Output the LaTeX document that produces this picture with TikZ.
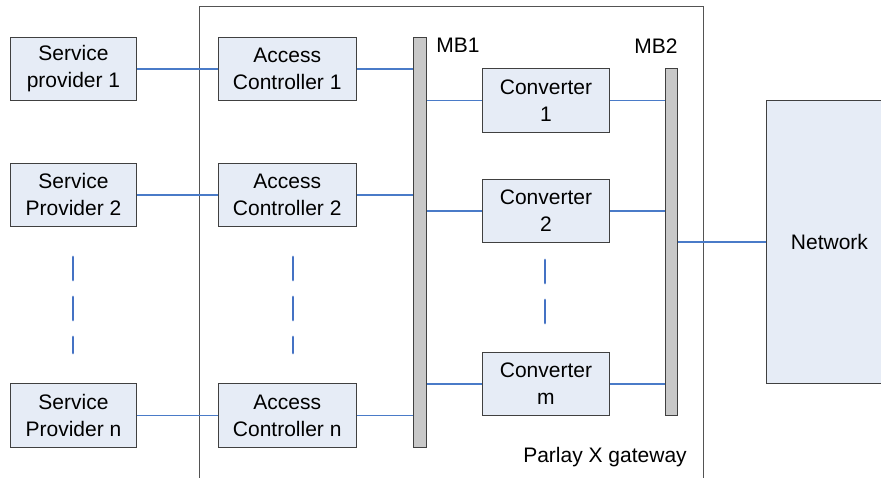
\documentclass[tikz,border=0pt]{standalone}
\usepackage{fontspec}
\setmainfont{Liberation Sans}
\definecolor{boxfill}{HTML}{E6ECF6}
\definecolor{boxline}{HTML}{404040}
\definecolor{barfill}{HTML}{C8C8C8}
\definecolor{linkblue}{HTML}{4A7BC8}
\definecolor{dotblue}{HTML}{4472C4}
\tikzset{
  x=1pt,y=-1pt,
  every node/.style={font=\fontsize{21}{27}\selectfont, inner sep=0pt, align=center},
  unit/.style={draw=boxline, fill=boxfill, line width=0.9pt, anchor=north west},
  bar/.style={draw=boxline, fill=barfill, line width=0.9pt, anchor=north west},
  link/.style={draw=linkblue, line width=1.2pt},
  dots/.style={draw=dotblue, line width=2.8pt, line cap=round, dash pattern=on 23pt off 17pt},
  frame/.style={draw=boxline!90, line width=0.9pt},
  lbl/.style={anchor=center}
}
\begin{document}
\begin{tikzpicture}
\useasboundingbox (0,0) rectangle (881,477);
% gateway frame (open at the bottom)
\draw[frame] (199,480) -- (199,6) -- (703,6) -- (703,480);
% service providers
\node[unit, minimum width=126pt, minimum height=63pt] (sp1) at (10,37) {Service\\provider 1};
\node[unit, minimum width=126pt, minimum height=63pt] (sp2) at (10,163) {Service\\Provider 2};
\node[unit, minimum width=126pt, minimum height=64pt] (spn) at (10,383) {Service\\Provider n};
% access controllers
\node[unit, minimum width=138.5pt, minimum height=63pt] (ac1) at (217.5,37) {Access\\Controller 1};
\node[unit, minimum width=138.5pt, minimum height=63pt] (ac2) at (217.5,163) {Access\\Controller 2};
\node[unit, minimum width=138.5pt, minimum height=64pt] (acn) at (217.5,383) {Access\\Controller n};
% buses
\node[bar, minimum width=13pt, minimum height=410pt] (mb1) at (413,37) {};
\node[bar, minimum width=12pt, minimum height=347pt] (mb2) at (665,68) {};
\node[lbl] (mb1t) at (458,45) {MB1};
\node[lbl] (mb2t) at (656,46) {MB2};
% converters
\node[unit, minimum width=127pt, minimum height=64pt] (cv1) at (482,68) {Converter\\1};
\node[unit, minimum width=127pt, minimum height=63pt] (cv2) at (482,179) {Converter\\2};
\node[unit, minimum width=127pt, minimum height=63pt] (cvm) at (482,352) {Converter\\m};
% network
\node[unit, minimum width=126pt, minimum height=283pt] (net) at (766,100) {Network};
% gateway label
\node[lbl] (gw) at (605,457) {Parlay X gateway};
% links
\draw[link] (sp1.east) -- (ac1.west);
\draw[link] (sp2.east) -- (ac2.west);
\draw[link] (spn.east) -- (acn.west);
\draw[link] (ac1.east) -- (ac1.east -| mb1.west);
\draw[link] (ac2.east) -- (ac2.east -| mb1.west);
\draw[link] (acn.east) -- (acn.east -| mb1.west);
\draw[link] (cv1.west -| mb1.east) -- (cv1.west);
\draw[link] (cv2.west -| mb1.east) -- (cv2.west);
\draw[link] (cvm.west -| mb1.east) -- (cvm.west);
\draw[link] (cv1.east) -- (cv1.east -| mb2.west);
\draw[link] (cv2.east) -- (cv2.east -| mb2.west);
\draw[link] (cvm.east) -- (cvm.east -| mb2.west);
\draw[link] (net.west -| mb2.east) -- (net.west);
% ellipsis dashes
\coordinate (d1a) at (73,257); \coordinate (d1b) at (73,353);
\coordinate (d2a) at (293,257); \coordinate (d2b) at (293,353);
\coordinate (d3a) at (545,260); \coordinate (d3b) at (545,327);
\draw[dots] (d1a) -- (d1b);
\draw[dots] (d2a) -- (d2b);
\draw[dots] (d3a) -- (d3b);
\end{tikzpicture}
\end{document}
